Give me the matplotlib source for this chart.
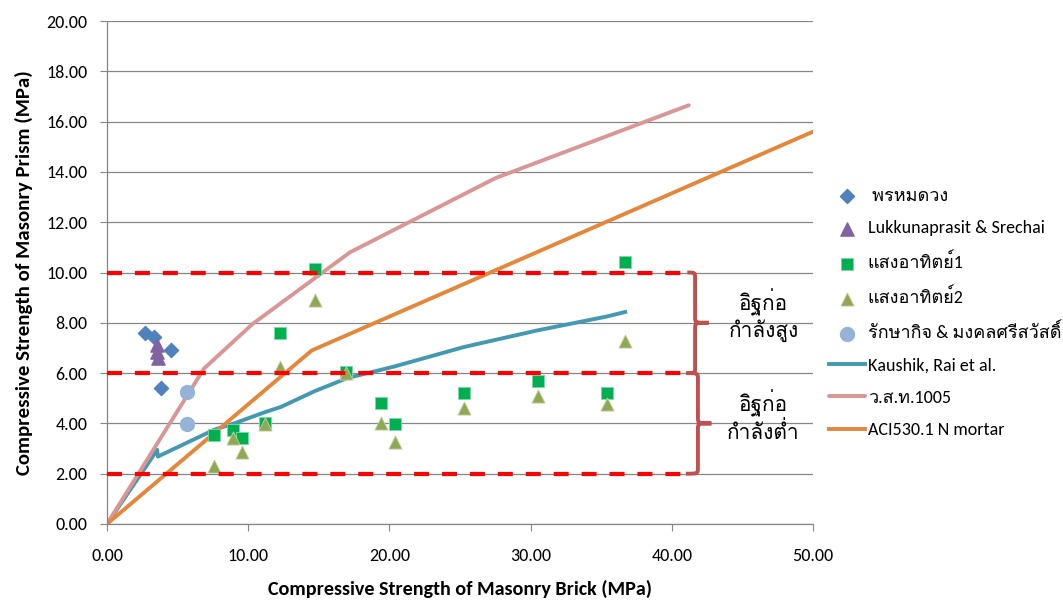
import matplotlib
matplotlib.use("Agg")
import matplotlib.pyplot as plt
from matplotlib.path import Path
from matplotlib.patches import PathPatch
from matplotlib.font_manager import FontProperties

# ---- data ----
prom_x = [2.7, 3.3, 4.5, 3.8]
prom_y = [7.6, 7.45, 6.9, 5.4]

luk_x = [3.55, 3.55, 3.6]
luk_y = [7.1, 6.85, 6.6]

sang_x = [7.58, 8.92, 9.56, 11.2, 12.25, 14.73, 16.93, 19.4, 20.4, 25.3, 30.5, 35.4, 36.7]
sang1_y = [3.54, 3.74, 3.42, 4.02, 7.6, 10.14, 6.04, 4.81, 3.98, 5.2, 5.7, 5.2, 10.4]
sang2_y = [2.31, 3.42, 2.86, 3.98, 6.24, 8.9, 6.0, 4.0, 3.26, 4.6, 5.1, 4.77, 7.28]

rak_x = [5.65, 5.65]
rak_y = [5.25, 3.97]

kaushik_x = [0, 2.9, 3.55, 3.6, 7.6, 9.0, 9.5, 11.2, 12.3, 14.7, 17.0, 19.4, 20.4, 25.3, 30.5, 35.4, 36.7]
kaushik_y = [0, 2.4, 2.95, 2.68, 3.75, 4.0, 4.1, 4.45, 4.65, 5.28, 5.8, 6.13, 6.27, 7.04, 7.7, 8.25, 8.43]

wsth_x = [0, 6.87, 10.3, 17.2, 27.5, 41.2]
wsth_y = [0, 6.18, 7.95, 10.8, 13.75, 16.65]

aci_x = [0, 14.5, 50.0]
aci_y = [0, 6.9, 15.6]

band_limits = [2.0, 6.0, 10.0]
band_x = [0, 40.8]
band_labels = ["อิฐก่อ\nกำลังสูง", "อิฐก่อ\nกำลังต่ำ"]

labels = [
    " พรหมดวง",
    "Lukkunaprasit & Srechai",
    "แสงอาทิตย์1",
    "แสงอาทิตย์2",
    "รักษากิจ & มงคลศรีสวัสดิ์",
    "Kaushik, Rai et al.",
    "ว.ส.ท.1005",
    "ACI530.1 N mortar",
]

FAMILY = ["Carlito", "Loma"]
GRID = "#868686"

plt.rcParams["font.family"] = FAMILY

fig = plt.figure(figsize=(10.63, 6.02), dpi=100)
ax = fig.add_axes([107 / 1063, 1 - 524 / 602, (813 - 107) / 1063, (524 - 21) / 602])

ms = 9.5
ax.scatter(prom_x, prom_y, marker="D", s=7.2 ** 2, color="#4F81BD", zorder=3, label=labels[0])
ax.scatter(luk_x, luk_y, marker="^", s=ms ** 2, color="#8064A2", zorder=3, label=labels[1])
ax.scatter(sang_x, sang1_y, marker="s", s=8.8 ** 2, color="#00B050", edgecolors="#7FD7A7",
           linewidths=0.6, zorder=3, label=labels[2])
ax.scatter(sang_x, sang2_y, marker="^", s=ms ** 2, color="#8FA853", edgecolors="#C5D4A6",
           linewidths=0.6, zorder=3, label=labels[3])
ax.scatter(rak_x, rak_y, marker="o", s=10 ** 2, color="#95B3D7", zorder=3, label=labels[4])

ax.plot(kaushik_x, kaushik_y, color="#4398B2", lw=2.8, zorder=2, label=labels[5])
ax.plot(wsth_x, wsth_y, color="#D99694", lw=2.8, zorder=2, label=labels[6], solid_capstyle="round")
ax.plot(aci_x, aci_y, color="#E4873A", lw=2.8, zorder=2, label=labels[7])

for yv in band_limits:
    ax.plot(band_x, [yv, yv], color="#FF0000", lw=3.0, dashes=(3.6, 3.1), zorder=4)


def brace(y_lo, y_hi, x_left, x_spine, x_tip, color="#C0504D"):
    mid = (y_lo + y_hi) / 2
    r = (y_hi - y_lo) * 0.06
    verts = [
        (x_left, y_hi),
        (x_spine, y_hi), (x_spine, y_hi), (x_spine, y_hi - r),
        (x_spine, mid + r),
        (x_spine, mid), (x_spine, mid), (x_tip, mid),
        (x_spine, mid), (x_spine, mid), (x_spine, mid - r),
        (x_spine, y_lo + r),
        (x_spine, y_lo), (x_spine, y_lo), (x_left, y_lo),
    ]
    codes = [Path.MOVETO,
             Path.CURVE4, Path.CURVE4, Path.CURVE4,
             Path.LINETO,
             Path.CURVE4, Path.CURVE4, Path.CURVE4,
             Path.CURVE4, Path.CURVE4, Path.CURVE4,
             Path.LINETO,
             Path.CURVE4, Path.CURVE4, Path.CURVE4]
    patch = PathPatch(Path(verts, codes), facecolor="none", edgecolor=color, lw=2.8,
                      clip_on=False, zorder=5)
    ax.add_patch(patch)


brace(band_limits[1], band_limits[2], 41.1, 41.65, 42.6)
brace(band_limits[0], band_limits[1], 41.0, 41.85, 42.8)

for (lo, hi), txt in zip([(band_limits[1], band_limits[2]), (band_limits[0], band_limits[1])], band_labels):
    ax.text(46.5, (lo + hi) / 2 + 0.3, txt, ha="center", va="center", fontsize=15,
            linespacing=1.15, clip_on=False, family=FAMILY)

ax.set_xlim(0, 50)
ax.set_ylim(0, 20)
ax.set_xticks(range(0, 51, 10))
ax.set_yticks(range(0, 21, 2))
ax.xaxis.set_major_formatter(matplotlib.ticker.FormatStrFormatter("%.2f"))
ax.yaxis.set_major_formatter(matplotlib.ticker.FormatStrFormatter("%.2f"))
ax.tick_params(axis="both", labelsize=13, color=GRID, length=5, width=0.8)
ax.tick_params(axis="x", pad=12)
ax.tick_params(axis="y", pad=9)
ax.grid(axis="y", color=GRID, lw=0.9)
ax.set_axisbelow(True)
for side in ("top", "right"):
    ax.spines[side].set_visible(False)
for side in ("left", "bottom"):
    ax.spines[side].set_color(GRID)
    ax.spines[side].set_linewidth(0.9)

ax.set_xlabel("Compressive Strength of Masonry Brick (MPa)", fontsize=14.5, fontweight="bold", labelpad=12)
ax.set_ylabel("Compressive Strength of Masonry Prism (MPa)", fontsize=15, fontweight="bold", labelpad=10)

handles, labs = ax.get_legend_handles_labels()
fig.legend(handles, labs, loc="upper left", bbox_to_anchor=(829 / 1063, 1 - 188 / 602),
           frameon=False, prop=FontProperties(family=FAMILY, size=13), handlelength=2.0,
           handletextpad=0.15, labelspacing=0.9, borderpad=0, borderaxespad=0)

fig.savefig("out.png", dpi=100)
